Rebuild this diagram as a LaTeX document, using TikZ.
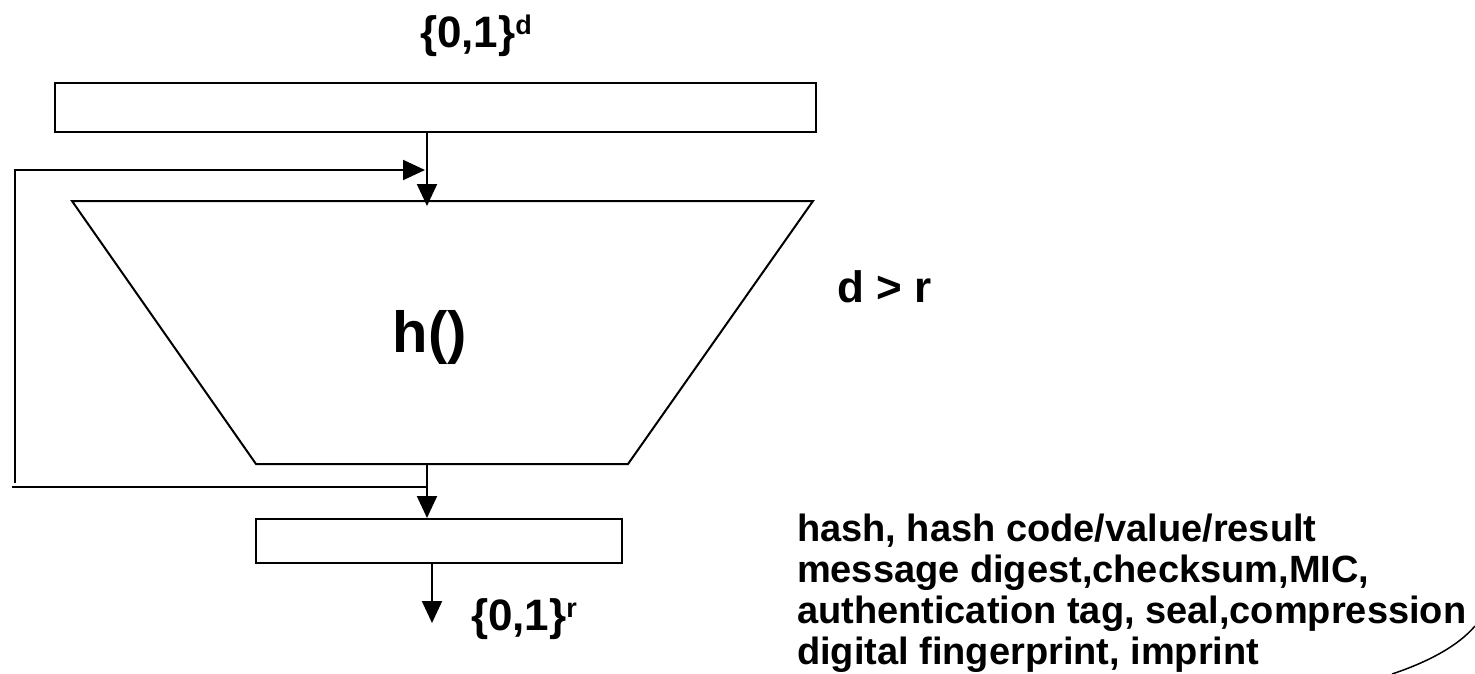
\documentclass[tikz,border=0pt]{standalone}
\usepackage{fontspec}
\setmainfont{Liberation Sans}
\usetikzlibrary{arrows.meta}
\begin{document}
\begin{tikzpicture}[x=1pt,y=-1pt,
  line width=2pt,
  box/.style={draw, rectangle, inner sep=0pt, line width=2pt},
  flow/.style={-{Triangle[length=22pt,width=20pt]}},
  lbl/.style={inner sep=0pt, anchor=base west},
  big/.style={font=\fontsize{44}{44}\selectfont\bfseries},
  body/.style={font=\fontsize{38}{41}\selectfont\bfseries}
]
\newcommand\supx[1]{\raisebox{13pt}{\fontsize{27}{27}\selectfont #1}}
\useasboundingbox (0,0) rectangle (1475,674);

% input and output registers
\node[box, minimum width=761pt, minimum height=49pt] (inbox) at (435.5,107.5) {};
\node[box, minimum width=366pt, minimum height=44pt] (outbox) at (439,541) {};

% compression function h()
\coordinate (tl) at (72,201);
\coordinate (tr) at (813,201);
\coordinate (br) at (628,464);
\coordinate (bl) at (256,464);
\draw (tl) -- (tr) -- (br) -- (bl) -- cycle;
\node[inner sep=0pt, font=\fontsize{58}{58}\selectfont\bfseries] (hfun) at (430,338) {h()};

% data flow
\coordinate (hin) at (427,206);
\coordinate (hout) at (427,464);
\coordinate (fbBot) at (15,483);
\coordinate (fbTop) at (15,170);
\coordinate (fbEnd) at (425,170);
\coordinate (chainL) at (12,487);
\coordinate (chainR) at (427,487);
\coordinate (res) at (432,623);
\draw[flow] (inbox.south -| hin) -- (hin);
\draw[flow] (fbBot) -- (fbTop) -- (fbEnd);
\draw (chainL) -- (chainR);
\draw[flow] (hout) -- (outbox.north -| hout);
\draw[flow] (outbox.south -| res) -- (res);

% labels
\node[lbl, big] (domain) at (419,48) {\{0,1\}\supx{d}};
\node[lbl, big] (range) at (470,630) {\{0,1\}\supx{r}};
\node[lbl, big] (cond) at (836,302) {d > r};

\node[lbl, body] (t1) at (796,541) {hash, hash code/value/result};
\node[lbl, body] (t2) at (796,582) {message digest,checksum,MIC,};
\node[lbl, body] (t3) at (796,623) {authentication tag, seal,compression};
\node[lbl, body] (t4) at (796,664) {digital fingerprint, imprint};

% border arc in the corner
\coordinate (arcA) at (1392,674);
\coordinate (arcB) at (1475,626);
\draw[line width=1.5pt] (arcA) .. controls (1428,662) and (1458,646) .. (arcB);
\end{tikzpicture}
\end{document}
